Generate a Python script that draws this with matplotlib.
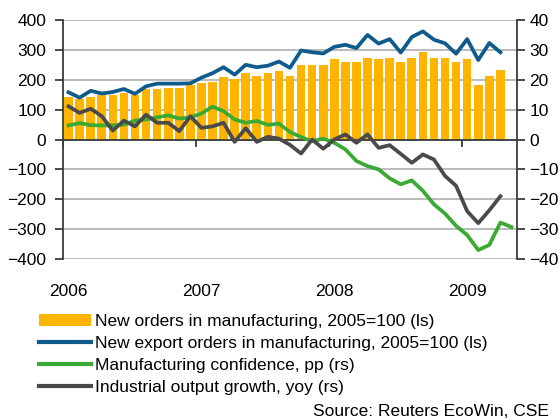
import matplotlib.pyplot as plt
import matplotlib.transforms as mtransforms
import numpy as np
from matplotlib.lines import Line2D
from matplotlib.patches import Patch

plt.rcParams['font.family'] = 'Liberation Sans'

# Monthly data, Jan 2006 onwards
years = ['2006', '2007', '2008', '2009']

# New orders in manufacturing, 2005=100 (left scale)
new_orders = [141, 137, 141, 148, 148, 154, 148, 168, 168, 174,
              174, 181, 188, 194, 208, 201, 221, 214, 221, 228,
              214, 248, 248, 248, 268, 261, 261, 274, 268, 274,
              261, 274, 294, 274, 274, 261, 268, 181, 214, 234]

# New export orders in manufacturing, 2005=100 (left scale)
export_orders = [158, 140, 163, 154, 159, 169, 153, 178, 187, 187,
                 187, 188, 207, 222, 242, 217, 250, 242, 247, 261,
                 240, 298, 292, 288, 310, 317, 306, 350, 321, 336,
                 291, 343, 362, 334, 322, 287, 336, 266, 323, 292]

# Manufacturing confidence, pp (right scale)
confidence = [4.7, 5.5, 4.8, 4.7, 4.7, 5.0, 6.3, 6.7, 7.4, 8.1,
              7.0, 7.4, 8.7, 11.0, 9.5, 6.7, 5.6, 6.2, 4.9, 5.3,
              2.5, 0.8, -0.6, 0.3, -1.1, -3.3, -7.2, -8.9, -10.0, -13.0,
              -15.0, -13.7, -17.2, -21.7, -24.8, -28.9, -32.0, -37.0, -35.3, -27.8,
              -29.3]

# Industrial output growth, yoy (right scale)
output_growth = [11.1, 8.9, 10.3, 7.8, 3.0, 6.3, 4.4, 8.3, 5.6, 5.6,
                 2.8, 7.8, 3.9, 4.4, 5.6, -0.8, 3.8, -0.8, 0.9, 0.3,
                 -1.8, -4.7, 0.0, -3.1, 0.0, 1.7, -1.1, 1.7, -2.8, -1.9,
                 -4.8, -7.8, -5.0, -6.7, -12.2, -15.5, -24.0, -28.0, -23.7, -19.0]

labels = ['New orders in manufacturing, 2005=100 (ls)',
          'New export orders in manufacturing, 2005=100 (ls)',
          'Manufacturing confidence, pp (rs)',
          'Industrial output growth, yoy (rs)']

orange = '#FFB400'
blue = '#0F5B8C'
green = '#3BAA35'
grey = '#4A4A4A'
axcol = '#3C3C3C'
fs = 12.5

fig = plt.figure(figsize=(5.6, 4.2), dpi=100)
ax = fig.add_axes([63 / 560, 1 - 259 / 420, 454 / 560, 239 / 420])
ax2 = ax.twinx()

ax.bar(np.arange(len(new_orders)) + 0.5, new_orders, width=0.78, color=orange, zorder=2)
ax.plot(np.arange(len(export_orders)) + 0.5, export_orders, color=blue, lw=2.7, zorder=3)
ax2.plot(np.arange(len(confidence)) + 0.5, confidence, color=green, lw=2.7)
ax2.plot(np.arange(len(output_growth)) + 0.5, output_growth, color=grey, lw=2.7)

ax.set_xlim(0, 41)
ax.set_ylim(-400, 400)
ax2.set_ylim(-40, 40)
ax.set_yticks(np.arange(-400, 401, 100))
ax2.set_yticks(np.arange(-40, 41, 10))
ax.set_xticks([0, 12, 24, 36])

ax.yaxis.grid(True, color='#A8A8A8', lw=1.1, zorder=0)
ax.set_axisbelow(True)

for s in ['top', 'right']:
    ax.spines[s].set_visible(False)
for s in ['top', 'left', 'bottom']:
    ax2.spines[s].set_visible(False)
ax.spines['bottom'].set_position(('data', 0))
for sp in [ax.spines['left'], ax.spines['bottom'], ax2.spines['right']]:
    sp.set_color(axcol)
    sp.set_linewidth(1.3)

ax.tick_params(axis='x', direction='out', length=5, width=1.3, color=axcol, labelbottom=False)
ax.tick_params(axis='y', direction='out', length=6, width=1.3, color=axcol, labelsize=fs, pad=6)
ax2.tick_params(axis='y', direction='out', length=6, width=1.3, color=axcol, labelsize=fs, pad=3)

trans = mtransforms.blended_transform_factory(ax.transData, ax.transAxes)
for k, yr in enumerate(years):
    ax.text(12 * k + 0.5, -0.135, yr, transform=trans, ha='center', va='center', fontsize=fs)

handles = [Patch(facecolor=orange, edgecolor='none'),
           Line2D([], [], color=blue, lw=3),
           Line2D([], [], color=green, lw=3),
           Line2D([], [], color=grey, lw=3)]
fig.legend(handles, labels, loc='upper left', bbox_to_anchor=(39 / 560, 1 - 314 / 420),
           frameon=False, fontsize=fs, handlelength=3.0, handletextpad=0.25,
           labelspacing=0.4, borderpad=0, borderaxespad=0)

fig.text(313 / 560, 1 - 412 / 420, 'Source: Reuters EcoWin, CSE', ha='left', va='center', fontsize=fs)

fig.savefig('out.png', dpi=100)
